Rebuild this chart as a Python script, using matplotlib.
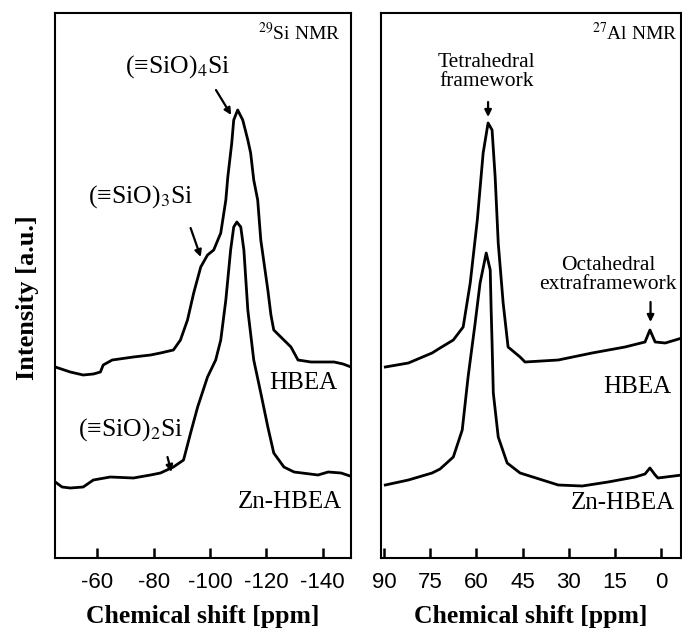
import matplotlib
matplotlib.use('Agg')
import matplotlib.pyplot as plt

plt.rcParams['font.family'] = ['Liberation Serif', 'DejaVu Serif']
plt.rcParams['mathtext.fontset'] = 'stix'
plt.rcParams['axes.unicode_minus'] = False

# 29Si spectra (ppm, intensity a.u.)
si_ppm_hbea = [-45.1, -50.4, -55.0, -58.6, -61.1, -62.1, -65.3, -72.8, -78.9, -82.4,
               -87.0, -89.5, -92.0, -94.2, -96.7, -99.1, -101.3, -103.8, -105.6, -106.3,
               -107.7, -108.4, -109.8, -111.6, -113.4, -114.4, -115.5, -116.9, -118.0,
               -119.1, -120.5, -121.6, -122.6, -125.1, -128.7, -131.2, -135.8, -144.0,
               -147.2, -150.0]
si_int_hbea = [191, 186, 183, 184, 186, 193, 198, 201, 203, 205,
               208, 218, 238, 265, 291, 303, 308, 325, 358, 381,
               415, 438, 448, 438, 418, 405, 378, 358, 318,
               296, 268, 243, 228, 221, 211, 198, 196, 196,
               194, 191]
si_ppm_zn = [-45.1, -47.5, -50.4, -55.0, -58.6, -64.6, -72.8, -78.9, -82.4, -87.0,
             -90.6, -93.1, -95.6, -99.1, -102.0, -103.8, -105.6, -107.3, -108.4, -109.5,
             -110.9, -112.0, -113.4, -115.5, -118.0, -120.5, -122.6, -126.2, -129.8,
             -138.3, -141.9, -146.5, -150.7]
si_int_zn = [76, 71, 70, 71, 78, 81, 80, 83, 85, 91,
             98, 125, 151, 181, 198, 218, 258, 308, 331, 336,
             331, 308, 248, 198, 165, 131, 105, 91, 86,
             83, 86, 85, 81]

# 27Al spectra
al_ppm_hbea = [89.6, 82.1, 74.4, 71.8, 67.5, 64.3, 62.0, 59.7, 57.8, 56.2, 54.9,
               53.9, 52.9, 51.3, 49.7, 45.8, 44.2, 33.4, 22.4, 11.7, 5.2, 3.6, 1.9,
               -1.4, -6.8]
al_int_hbea = [191, 195, 205, 210, 218, 231, 275, 338, 405, 435, 428,
               381, 315, 255, 211, 201, 196, 198, 205, 211, 216, 228, 216,
               215, 220]
al_ppm_zn = [89.6, 82.1, 74.4, 71.8, 67.5, 64.6, 62.7, 60.4, 58.8, 56.8, 55.5,
             55.2, 54.9, 54.5, 52.9, 50.0, 45.8, 33.4, 25.6, 17.2, 8.4, 5.2, 3.6,
             1.9, 1.0, -6.8]
al_int_zn = [73, 78, 85, 89, 101, 128, 181, 235, 275, 305, 288,
             248, 215, 165, 121, 95, 85, 73, 72, 76, 81, 84, 90,
             83, 80, 83]

si_ticks = [-60, -80, -100, -120, -140]
al_ticks = [90, 75, 60, 45, 30, 15, 0]

fig = plt.figure(figsize=(6.82, 6.28), dpi=100)
ax1 = fig.add_axes([55 / 682, 1 - 558 / 628, 296 / 682, 545 / 628])
ax2 = fig.add_axes([381 / 682, 1 - 558 / 628, 300 / 682, 545 / 628])

lw = 2.0
ax1.plot(si_ppm_hbea, si_int_hbea, color='black', lw=lw)
ax1.plot(si_ppm_zn, si_int_zn, color='black', lw=lw)
ax2.plot(al_ppm_hbea, al_int_hbea, color='black', lw=lw)
ax2.plot(al_ppm_zn, al_int_zn, color='black', lw=lw)

ax1.set_xlim(-45, -150)
ax2.set_xlim(91, -6.5)
ax1.set_xticks(si_ticks)
ax2.set_xticks(al_ticks)
for ax in (ax1, ax2):
    ax.set_ylim(0, 545)
    ax.set_yticks([])
    for s in ax.spines.values():
        s.set_linewidth(1.5)
    ax.tick_params(axis='x', direction='in', length=7, width=1.8, pad=10,
                   top=False, labelsize=16)
    for lab in ax.get_xticklabels():
        lab.set_fontfamily('Liberation Sans')
    ax.set_xlabel('Chemical shift [ppm]', fontsize=18.5, fontweight='bold', labelpad=9)

fig.text(28 / 682, 1 - 298 / 628, 'Intensity [a.u.]', rotation=90, fontsize=19,
         fontweight='bold', ha='center', va='center')

arrow = dict(arrowstyle='-|>', color='black', lw=1.6, mutation_scale=10,
             shrinkA=0, shrinkB=0)

# 29Si panel labels
ax1.text(0.963, 0.963, r'$^{29}$Si NMR', transform=ax1.transAxes, ha='right',
         va='center', fontsize=14)
ax1.text(-88.5, 491, '(≡SiO)$_4$Si', ha='center', va='center', fontsize=18.5)
ax1.annotate('', xy=(-107.5, 443), xytext=(-102.1, 468), arrowprops=arrow)
ax1.text(-75.3, 361, '(≡SiO)$_3$Si', ha='center', va='center', fontsize=18.5)
ax1.annotate('', xy=(-96.7, 301), xytext=(-93.1, 330), arrowprops=arrow)
ax1.text(-71.7, 128, '(≡SiO)$_2$Si', ha='center', va='center', fontsize=18.5)
ax1.annotate('', xy=(-86.3, 86), xytext=(-84.9, 101), arrowprops=arrow)
ax1.text(-133, 175, 'HBEA', ha='center', va='center', fontsize=18)
ax1.text(-128.3, 56, 'Zn-HBEA', ha='center', va='center', fontsize=18)

# 27Al panel labels
ax2.text(0.99, 0.963, r'$^{27}$Al NMR', transform=ax2.transAxes, ha='right',
         va='center', fontsize=14)
ax2.text(56.8, 486, 'Tetrahedral\nframework', ha='center', va='center', fontsize=15.5,
         linespacing=1.0)
ax2.annotate('', xy=(56.2, 441), xytext=(56.2, 456), arrowprops=arrow)
ax2.text(17.2, 283, 'Octahedral\nextraframework', ha='center', va='center', fontsize=15.5,
         linespacing=1.0)
ax2.annotate('', xy=(3.4, 236), xytext=(3.4, 256), arrowprops=arrow)
ax2.text(7.8, 171, 'HBEA', ha='center', va='center', fontsize=18)
ax2.text(12.3, 55, 'Zn-HBEA', ha='center', va='center', fontsize=18)

fig.savefig('out.png', dpi=100)
